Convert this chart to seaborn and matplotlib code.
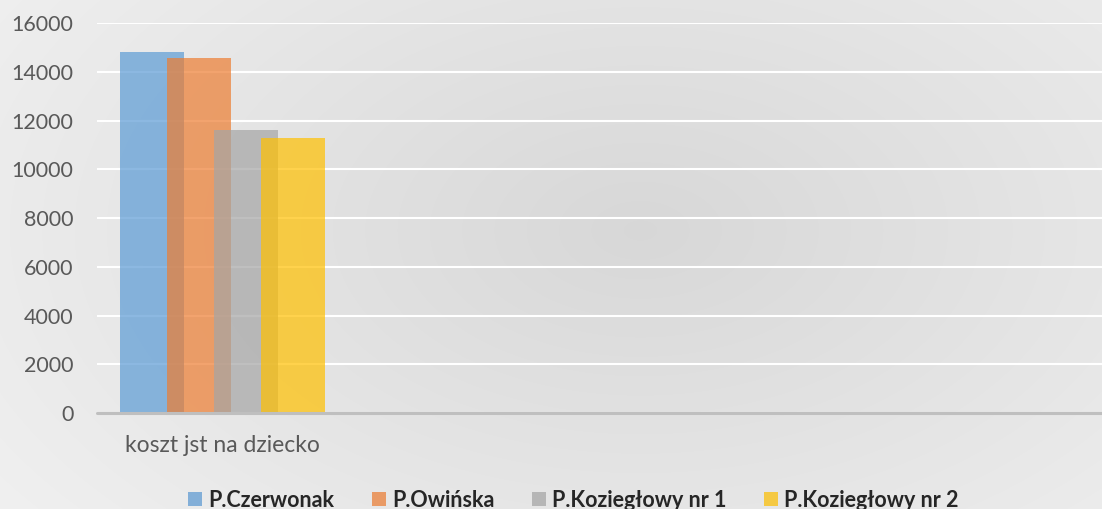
import numpy as np
import pandas as pd
import matplotlib
matplotlib.use("Agg")
import matplotlib.pyplot as plt
import seaborn as sns
from matplotlib.patches import Patch
from matplotlib.colors import to_rgb

# data
categories = ["koszt jst na dziecko"]
series = ["P.Czerwonak", "P.Owińska", "P.Koziegłowy nr 1", "P.Koziegłowy nr 2"]
values = [14800, 14560, 11610, 11280]
colors = ["#5B9BD5", "#ED7D31", "#A5A5A5", "#FFC000"]
yticks = [0, 2000, 4000, 6000, 8000, 10000, 12000, 14000, 16000]

df = pd.DataFrame({"cat": categories * len(series), "series": series, "val": values})

sns.set_theme(style="white")
plt.rcParams["font.family"] = ["Lato", "DejaVu Sans"]

fig = plt.figure(figsize=(11.02, 5.09), dpi=100)

# radial gradient background
bg = fig.add_axes([0, 0, 1, 1], zorder=-10)
yy, xx = np.mgrid[0:509, 0:1102]
r = np.sqrt(((xx - 640) / 700.0) ** 2 + ((yy - 230) / 420.0) ** 2)
g = np.clip(0.845 + 0.085 * r, 0, 0.94)
bg.imshow(np.dstack([g, g, g]), aspect="auto", extent=[0, 1, 0, 1])
bg.set_axis_off()

ax = fig.add_axes([0.088, 0.1886, 0.912, 0.7662])
ax.set_facecolor("none")

alpha = 0.7
sns.barplot(data=df, x="cat", y="val", hue="series", palette=colors,
            saturation=1, dodge=True, width=0.748, gap=0, alpha=alpha,
            linewidth=0, legend=False, ax=ax)

# widen bars so neighbours overlap like the original
for p in ax.patches:
    cx = p.get_x() + p.get_width() / 2
    p.set_width(0.255)
    p.set_x(cx - 0.255 / 2)
    p.set_zorder(3)

ax.set_xlim(-0.5, 3.5)
ax.set_ylim(0, 16000)
ax.set_yticks(yticks)
ax.set_yticklabels([str(v) for v in yticks])
ax.grid(axis="y", color="white", linewidth=1.5, zorder=0)
ax.set_axisbelow(True)
for s in ["top", "right", "left", "bottom"]:
    ax.spines[s].set_visible(False)
ax.axhline(0, color="#BFBFBF", linewidth=2.2, zorder=4, clip_on=False)
ax.tick_params(axis="y", length=0, pad=17, labelsize=15.5, labelcolor="#595959")
ax.tick_params(axis="x", length=0, pad=16, labelsize=16.5, labelcolor="#595959")
ax.set_xlabel("")
ax.set_ylabel("")

bg_col = np.array([0.875, 0.875, 0.875])
handles = [Patch(facecolor=tuple(alpha * np.array(to_rgb(c)) + (1 - alpha) * bg_col),
                 edgecolor="none", label=s) for c, s in zip(colors, series)]
fig.legend(handles=handles, loc="center", bbox_to_anchor=(0.5205, 0.017), ncol=4,
           frameon=False, handlelength=0.65, handleheight=0.65, handletextpad=0.28,
           columnspacing=1.75, borderpad=0, prop={"weight": "bold", "size": 15.5})

fig.savefig("out.png", dpi=100)
